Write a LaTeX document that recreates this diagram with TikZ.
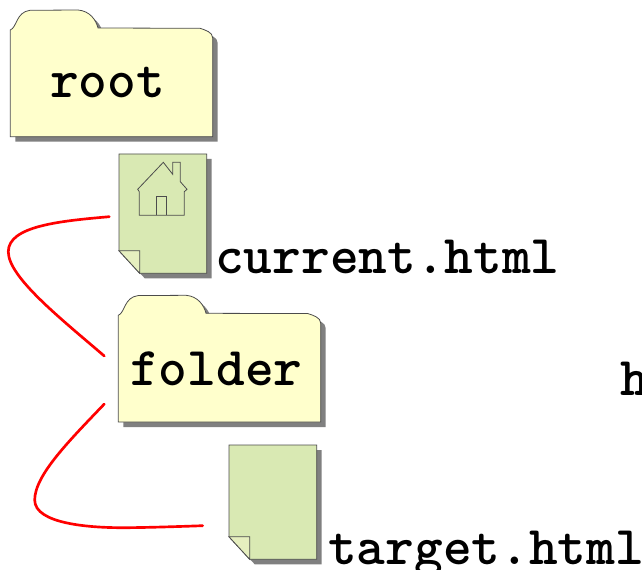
\documentclass[tikz,border=0pt]{standalone}
\usepackage{fontspec}
\tikzset{
  px/.style={x=0.75pt,y=-0.75pt},
  outline/.style={draw=black!70,line width=0.6pt},
  shadowfill/.style={fill=black!50,draw=none},
  label/.style={font=\fontsize{41pt}{42pt}\selectfont\ttfamily\bfseries,inner sep=0pt,anchor=base west,text=black},
  link/.style={draw=red,line width=2pt,line cap=round},
  folderpic/.pic={
    \def\fp{(10.3,30) .. controls (17,27.5) and (16,12) .. (30,10.3) -- (78,10) .. controls (90,11) and (96,20) .. (98,28) -- (200,28.3) .. controls (205,30) and (212.7,32) .. (212.7,38) -- (212.7,136.7) -- (10.3,136.7) -- cycle}
    \path[shadowfill,shift={(5,5)}] \fp;
    \path[outline,fill=folderyellow] \fp;
  },
  docpic/.pic={
    \path[shadowfill,shift={(5,5)}] (0,0) -- (\docw,0) -- (\docw,\doch) -- (20.7,\doch) -- (0,\doch-22.5) -- cycle;
    \path[outline,fill=docgreen] (0,0) -- (\docw,0) -- (\docw,\doch) -- (20.7,\doch) -- (0,\doch-22.5) -- cycle;
    \path[outline,fill=foldgreen] (0,\doch-22.5) -- (20.7,\doch-22.5) -- (20.7,\doch) -- cycle;
  }
}
\definecolor{folderyellow}{HTML}{FFFFCC}
\definecolor{docgreen}{HTML}{D9E9B3}
\definecolor{foldgreen}{HTML}{E6EFBF}
\begin{document}
\begin{tikzpicture}[px]
\useasboundingbox (0,0) rectangle (642,570);
\pgfmathsetmacro{\docw}{87.7}
% root folder
\pic at (0,0) {folderpic};
\node[label] (rootlabel) at (50,98) {root};
% current document
\pgfmathsetmacro{\doch}{119.3}
\pic at (119,154) {docpic};
\draw[draw=black!70,line width=0.6pt] (163.3,162.3) -- (172.7,174.3) -- (172.7,162.3) -- (180.3,162.3) -- (180.3,181.7) -- (187,189.3) -- (184.3,191.7) -- (184.3,215.3) -- (139.3,215.3) -- (139.3,191.7) -- (137.7,189.3) -- cycle;
\draw[draw=black!70,line width=0.6pt] (156.3,215.3) -- (156.3,196.3) -- (166.3,196.3) -- (166.3,215.3);
\node[label] (currentlabel) at (215,273.5) {current.html};
% inner folder
\pic at (108,285.3) {folderpic};
\node[label] (folderlabel) at (130,385) {folder};
% target document
\pgfmathsetmacro{\doch}{114.3}
\pic at (229,445) {docpic};
\node[label] (targetlabel) at (328,564.5) {target.html};
\node[label] (hlabel) at (620,395.5) {h};
% connectors
\coordinate (a1) at (109.3,216.7);
\coordinate (a2) at (104.3,356);
\coordinate (b1) at (104.3,404);
\coordinate (b2) at (202.7,525.7);
\draw[link] (a1) .. controls (60,221) and (8.3,226) .. (8.3,251.7) .. controls (8.3,277) and (60,318) .. (a2);
\draw[link] (b1) .. controls (70,440) and (34.7,475) .. (34.7,500) .. controls (34.7,524) and (90,528) .. (126.7,527.7) .. controls (150,527.5) and (180,526.5) .. (b2);
\end{tikzpicture}
\end{document}
